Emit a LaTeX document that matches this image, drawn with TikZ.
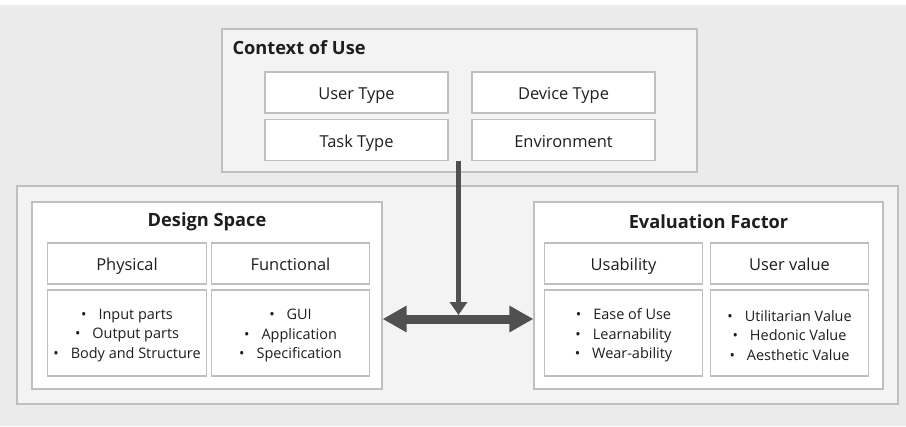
\documentclass[tikz,border=0pt]{standalone}
\usepackage{fontspec}
\setmainfont{Open Sans}
\usetikzlibrary{arrows.meta, positioning, calc}
\definecolor{dsInk}{HTML}{1E1E1E}
\definecolor{dsBack}{HTML}{EBEBEB}
\definecolor{dsPanel}{HTML}{F3F3F3}
\definecolor{dsLine}{HTML}{BFBFBF}
\definecolor{dsArrow}{HTML}{505050}
\newcommand{\itm}{\textbullet\hspace{12bp}}
\tikzset{
  panel/.style={draw=dsLine, fill=dsPanel, line width=1.2bp, inner sep=0pt},
  cell/.style={draw=dsLine, fill=white, line width=1.2bp, inner sep=0pt,
    text=dsInk, align=center, font=\fontsize{16.5}{20}\selectfont,
    text height=16bp, text depth=2bp},
  listcell/.style={draw=dsLine, fill=white, line width=1.2bp, inner sep=0pt,
    minimum width=158.5bp, minimum height=86bp},
  listtext/.style={text=dsInk, align=center, yshift=-2.5bp,
    font=\fontsize{14.5}{19.7}\selectfont},
  title/.style={text=dsInk, font=\fontsize{18.3}{22}\selectfont\bfseries},
  bigarrow/.style={dsArrow, line width=#1},
}

\begin{document}
\begin{tikzpicture}[x=1bp, y=-1bp]
  \useasboundingbox (0,0) rectangle (906,426);
  \fill[dsBack] (0,5) rectangle (906,426);

  % panels
  \node[panel, minimum width=881bp, minimum height=218bp] (frame) at (457.5,295) {};
  \node[panel, minimum width=475bp, minimum height=143bp] (ctx) at (459.5,100.5) {};
  \node[panel, fill=white, minimum width=350bp, minimum height=187bp] (ds) at (207,295.5) {};
  \node[panel, fill=white, minimum width=349bp, minimum height=187bp] (ef) at (708.5,295.5) {};

  % context of use
  \node[title, anchor=west] (ctxTitle) at (229,48) {Context of Use};
  \foreach \name/\cx/\cy/\id in {User Type/356.5/92.5/user, Device Type/563.5/92.5/device,
      Task Type/356.5/140/task, Environment/563.5/140/env} {
    \node[cell, minimum width=183bp, minimum height=41bp] (\id) at (\cx,\cy) {\name};
  }

  % design space and evaluation factor
  \node[title] (dsTitle) at ($(ds.north)+(0,20)$) {Design Space};
  \node[title] (efTitle) at ($(ef.north)+(0,20)$) {Evaluation Factor};
  \foreach \name/\cx/\id in {Physical/127/phys, Functional/290.5/func,
      Usability/623.5/usab, User value/789.5/uval} {
    \node[cell, minimum width=158.5bp, minimum height=41bp] (\id) at (\cx,263.5) {\name};
  }
  \node[listcell, label={[listtext]center:{\itm Input parts\\ \itm Output parts\\ \itm Body and Structure}}]
    (physList) at (127,333) {};
  \node[listcell, label={[listtext]center:{\itm GUI\\ \itm Application\\ \itm Specification}}]
    (funcList) at (290.5,333) {};
  \node[listcell, label={[listtext]center:{\itm Ease of Use\\ \itm Learnability\\ \itm Wear-ability}}]
    (usabList) at (623.5,333) {};
  \node[listcell, label={[listtext]center:{\itm Utilitarian Value\\ \itm Hedonic Value\\ \itm Aesthetic Value}}]
    (uvalList) at (789.5,333) {};

  % arrows
  \coordinate (hub) at (458.5,319);
  \draw[bigarrow=5.5bp, -{Triangle[width=17bp, length=13bp]}]
    (task.south -| hub) -- ([yshift=4bp]hub);
  \draw[bigarrow=9bp, {Triangle[width=25bp, length=24bp]}-{Triangle[width=25bp, length=24bp]}]
    (hub -| ds.east) -- (hub -| ef.west);
\end{tikzpicture}
\end{document}
